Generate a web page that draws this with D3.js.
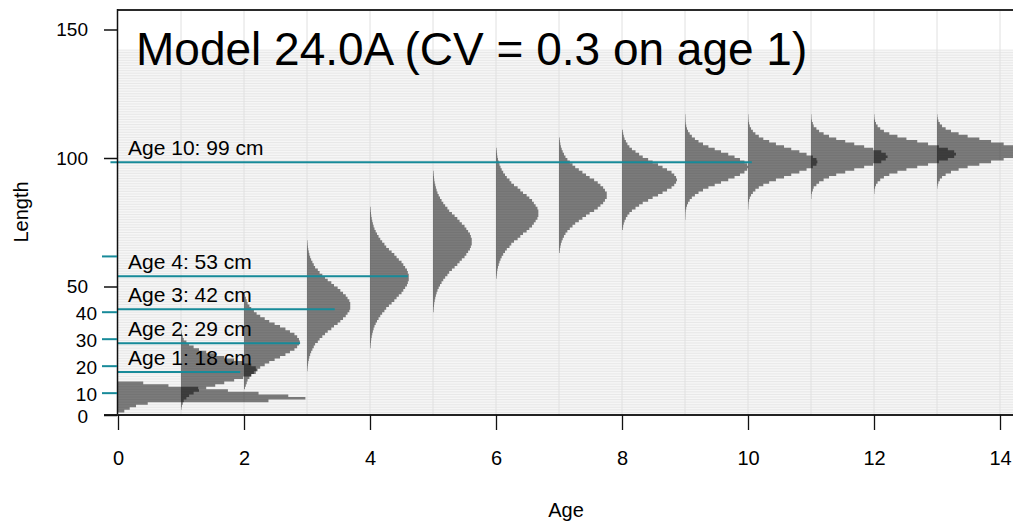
<!DOCTYPE html>
<html>
<head>
<meta charset="utf-8">
<script src="https://cdn.jsdelivr.net/npm/d3@7/dist/d3.min.js"></script>
<style>
body { margin: 0; background: #fff; }
text { font-family: "Liberation Sans", Arial, sans-serif; fill: #000; }
</style>
</head>
<body>
<svg width="1013" height="524"></svg>
<script>
var svg = d3.select('svg');
var width = +svg.attr('width');
var height = +svg.attr('height');

// one length distribution per age
var ages = [0, 1, 2, 3, 4, 5, 6, 7, 8, 9, 10, 11, 12, 13];
// lower edge (cm) of the first 1 cm bin of each distribution
var firstBin = [1, 2, 10, 17, 26, 40, 53, 63, 72, 76, 80, 84, 86, 88];
// proportion in each 1 cm length bin, per mille
var props = [
    [7, 13, 20, 33, 167, 208, 189, 156, 122, 89, 56, 28],
    [0.5, 1, 2, 3, 6, 9, 14, 20, 28, 38, 48, 59, 69, 78, 83, 85, 83, 78, 69, 59, 48, 38, 28, 20, 14, 9, 6, 3, 2, 1, 0.5],
    [1, 2, 3, 4, 6, 8, 11, 14, 18, 23, 28, 34, 40, 46, 51, 56, 59, 61, 62, 61, 59, 56, 51, 46, 40, 34, 28, 23, 18, 14, 11, 8, 6, 4, 3, 2, 1],
    [0.5, 0.7, 1, 1.4, 2, 2.6, 3.5, 4.6, 6, 7.5, 9, 12, 14, 17, 20, 23, 27, 30, 34, 37, 40, 43, 45, 47, 48, 48, 48, 47, 45, 43, 40, 37, 34, 30, 27, 23, 20, 17, 14, 12, 9, 7.5, 6, 4.6, 3.5, 2.6, 2, 1.4, 1, 0.7, 0.5],
    [0.6, 0.8, 1.1, 1.4, 1.9, 2.5, 3.2, 4, 5, 6.3, 7.8, 9.5, 11.4, 13.5, 16, 18, 21, 24, 27, 29.5, 32, 35, 37, 39, 41, 42, 43, 43, 43, 42, 41, 39, 37, 35, 32, 29.5, 27, 24, 21, 18, 16, 13.5, 11.4, 9.5, 7.8, 6.3, 5, 4, 3.2, 2.5, 1.9, 1.4, 1.1, 0.8, 0.6],
    [0.6, 0.8, 1.1, 1.4, 1.9, 2.5, 3.2, 4, 5, 6.3, 7.8, 9.5, 11.4, 13.5, 16, 18, 21, 24, 27, 29.5, 32, 35, 37, 39, 41, 42, 43, 43, 43, 42, 41, 39, 37, 35, 32, 29.5, 27, 24, 21, 18, 16, 13.5, 11.4, 9.5, 7.8, 6.3, 5, 4, 3.2, 2.5, 1.9, 1.4, 1.1, 0.8, 0.6],
    [0.6, 0.9, 1.2, 1.6, 2.2, 3, 3.9, 5, 6.3, 8, 10, 12, 15, 17, 20, 24, 27, 30, 34, 37, 40, 42, 44, 46, 47, 47, 47, 46, 44, 42, 40, 37, 34, 30, 27, 24, 20, 17, 15, 12, 10, 8, 6.3, 5, 3.9, 3, 2.2, 1.6, 1.2, 0.9, 0.6],
    [0.7, 1, 1.5, 2.1, 3, 4.1, 5.5, 7.2, 9.3, 12, 15, 18, 22, 26, 30, 34, 39, 43, 46, 49, 51, 53, 53, 53, 51, 49, 46, 43, 39, 34, 30, 26, 22, 18, 15, 12, 9.3, 7.2, 5.5, 4.1, 3, 2.1, 1.5, 1, 0.7],
    [0.85, 1.3, 2, 2.9, 4.3, 6, 8.2, 11, 15, 19, 23, 29, 34, 40, 45, 50, 55, 58, 60, 61, 60, 58, 55, 50, 45, 40, 34, 29, 23, 19, 15, 11, 8.2, 6, 4.3, 2.9, 2, 1.3, 0.85],
    [0.4, 0.5, 0.6, 0.8, 1.4, 2.2, 3.4, 5.2, 7.6, 11, 15, 20, 26, 33, 40, 48, 55, 61, 66, 69, 70, 69, 66, 61, 55, 48, 40, 33, 26, 20, 15, 11, 7.6, 5.2, 3.4, 2.2, 1.4, 0.8, 0.6, 0.5, 0.4],
    [0.4, 0.5, 0.7, 1.2, 2, 3.4, 5.4, 8.2, 12, 17, 23.5, 31, 40, 48, 57, 65, 72, 76, 77, 76, 72, 65, 57, 48, 40, 31, 23.5, 17, 12, 8.2, 5.4, 3.4, 2, 1.2, 0.7, 0.5, 0.4],
    [0.4, 0.5, 1, 2, 3, 6, 9, 14, 20, 28, 38, 48, 59, 69, 78, 83, 85, 83, 78, 69, 59, 48, 38, 28, 20, 14, 9, 6, 3, 2, 1, 0.5, 0.4],
    [0.4, 0.6, 1.2, 2.2, 4, 6.9, 11, 17, 26, 36, 48, 60, 72, 82, 89, 91, 89, 82, 72, 60, 48, 36, 26, 17, 11, 6.9, 4, 2.2, 1.2, 0.6, 0.4],
    [0.4, 0.8, 1.6, 3.1, 5.6, 9.6, 15.5, 24, 34, 47, 60, 74, 85, 92, 95, 92, 85, 74, 60, 47, 34, 24, 15.5, 9.6, 5.6, 3.1, 1.6, 0.8, 0.4]
];
var maxBin = 142;  // length bins drawn in the background

// mean length labels
var labelAges = [1, 2, 3, 4, 10];
var labelCm = [18, 29, 42, 53, 99];
var lineAt = [16.7, 27.9, 41.1, 54.0, 98.3];
var lineFrom = [0, 0, 0, 0, -0.12];
var lineTo = [1.94, 2.89, 3.44, 4.6, 10.06];

// axis ticks
var xTicks = [0, 2, 4, 6, 8, 10, 12, 14];
var yTicks = [0, 50, 100, 150];
var tealTicks = [8.5, 19, 29.5, 40, 61.7];
var tealLabels = ['10', '20', '30', '40', ''];

var title = 'Model 24.0A (CV = 0.3 on age 1)';
var teal = '#178a99';

var x = d3.scaleLinear().domain([0, 14]).range([118, 1000]);
var y = d3.scaleLinear().domain([0, 150]).range([415, 29.5]);
var w = d3.scaleLinear().domain([0, 1000]).range([0, 14.3]);  // per mille -> age units

// background length bins
svg.append('rect')
    .attr('x', x(0)).attr('y', y(maxBin))
    .attr('width', width - x(0)).attr('height', y(0) - y(maxBin))
    .attr('fill', '#f6f6f6');
svg.append('g').selectAll('line')
    .data(d3.range(0, maxBin + 1))
    .enter().append('line')
    .attr('x1', x(0)).attr('x2', width)
    .attr('y1', d => y(d)).attr('y2', d => y(d))
    .attr('stroke', '#e3e3e3').attr('stroke-width', 0.8);

// vertical lines at each age
svg.append('g').selectAll('line')
    .data(d3.range(1, 15))
    .enter().append('line')
    .attr('x1', d => x(d)).attr('x2', d => x(d))
    .attr('y1', 10).attr('y2', y(0))
    .attr('stroke', '#e0e0e0').attr('stroke-width', 1);

// distributions
var area = d3.area()
    .y(d => y(d.len))
    .x0(d => x(d.age))
    .x1(d => x(d.age + w(d.p)))
    .curve(d3.curveStepBefore);

var distData = ages.map(function(a, i) {
    var pts = props[i].map((p, j) => ({age: a, len: firstBin[i] + j, p: p}));
    pts.push({age: a, len: firstBin[i] + props[i].length, p: 0});
    return pts;
});

svg.append('g').attr('class', 'dists')
    .selectAll('path')
    .data(distData)
    .enter().append('path')
    .attr('d', area)
    .attr('fill', '#000').attr('fill-opacity', 0.5);

// mean length lines and labels
var lab = svg.append('g').attr('class', 'labels');
labelAges.forEach(function(a, i) {
    lab.append('line')
        .attr('x1', x(lineFrom[i])).attr('x2', x(lineTo[i]))
        .attr('y1', y(lineAt[i])).attr('y2', y(lineAt[i]))
        .attr('stroke', teal).attr('stroke-width', 2);
    lab.append('text')
        .attr('x', 128).attr('y', y(lineAt[i]) - 7)
        .attr('font-size', '21px')
        .text('Age ' + a + ': ' + labelCm[i] + ' cm');
});

// frame
svg.append('line').attr('x1', 117).attr('x2', width).attr('y1', 10).attr('y2', 10)
    .attr('stroke', '#2a2a2a').attr('stroke-width', 2);
svg.append('line').attr('x1', 117.5).attr('x2', 117.5).attr('y1', 9).attr('y2', y(0))
    .attr('stroke', '#111').attr('stroke-width', 1.5);
svg.append('line').attr('x1', 104).attr('x2', width).attr('y1', y(0)).attr('y2', y(0))
    .attr('stroke', '#222').attr('stroke-width', 2);

// x axis
var xAxis = svg.append('g')
    .attr('transform', 'translate(0,' + y(0) + ')')
    .call(d3.axisBottom(x).tickValues(xTicks).tickSize(15).tickPadding(21));
xAxis.select('.domain').remove();
xAxis.selectAll('line').attr('stroke', '#111').attr('stroke-width', 1.3);
xAxis.selectAll('text').attr('font-size', '20px').style('font-family', '"Liberation Sans", Arial, sans-serif');

// y axis
var yAxis = svg.append('g')
    .attr('transform', 'translate(117,0)')
    .call(d3.axisLeft(y).tickValues(yTicks).tickSize(13).tickPadding(16));
yAxis.select('.domain').remove();
yAxis.selectAll('line').attr('stroke', '#111').attr('stroke-width', 1.5);
yAxis.selectAll('text').attr('font-size', '19px').style('font-family', '"Liberation Sans", Arial, sans-serif');
yAxis.selectAll('.tick').filter(d => d === 0).select('text').attr('y', 1.5);

// teal tick marks
var tg = svg.append('g');
tg.selectAll('line').data(tealTicks).enter().append('line')
    .attr('x1', 102).attr('x2', 117)
    .attr('y1', d => y(d)).attr('y2', d => y(d))
    .attr('stroke', teal).attr('stroke-width', 2);
tg.selectAll('text').data(tealTicks).enter().append('text')
    .attr('x', 97).attr('y', d => y(d) + 1).attr('dy', '0.35em')
    .attr('text-anchor', 'end').attr('font-size', '19px')
    .text((d, i) => tealLabels[i]);

// titles
svg.append('text').attr('x', 136).attr('y', 65)
    .attr('font-size', '46px').text(title);
svg.append('text').attr('x', 566).attr('y', 517)
    .attr('text-anchor', 'middle').attr('font-size', '20px').text('Age');
svg.append('text')
    .attr('transform', 'translate(28,' + 212 + ') rotate(-90)')
    .attr('text-anchor', 'middle').attr('font-size', '20px').text('Length');
</script>
</body>
</html>
